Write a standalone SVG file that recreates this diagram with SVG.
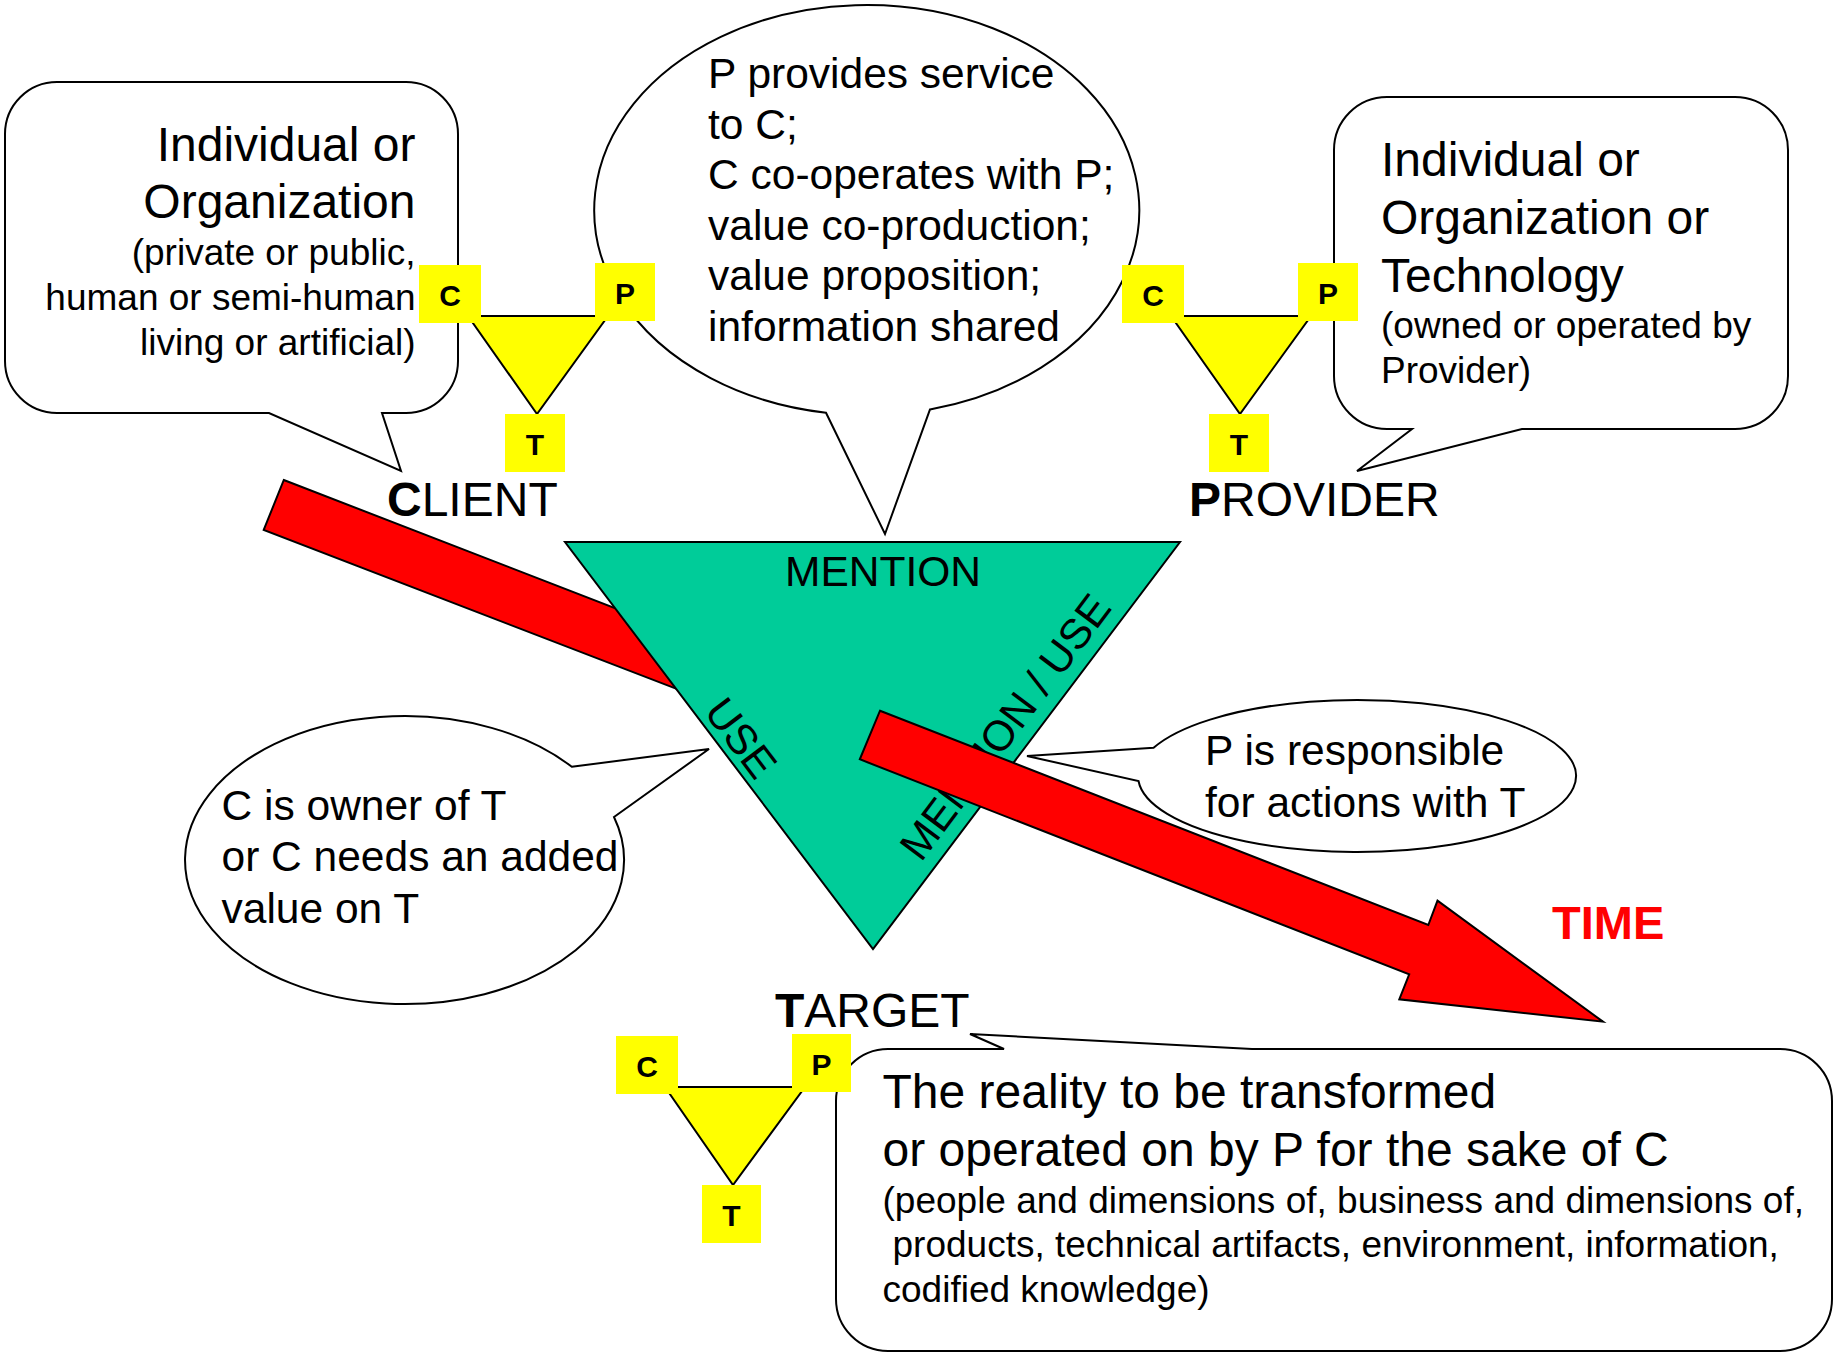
<svg xmlns="http://www.w3.org/2000/svg" width="1835" height="1354" viewBox="0 0 1835 1354">
<style>
.co{fill:#fff;stroke:#000;stroke-width:2;stroke-linejoin:miter}
.t{font-family:"Liberation Sans",Arial,sans-serif;fill:#000}
.big{font-size:48px}
.mid{font-size:42.5px}
.txt{font-size:42.5px}
.sm{font-size:37px}
.box{fill:#ff0}
.ytri{fill:#ff0;stroke:#000;stroke-width:2}
.bl{font-family:"Liberation Sans",Arial,sans-serif;font-weight:bold;font-size:30px;text-anchor:middle;fill:#000}
.red{fill:#f00;stroke:#000;stroke-width:2;stroke-linejoin:miter}
.b{font-weight:bold}
</style>
<rect width="1835" height="1354" fill="#fff"/>

<g id="client-callout">
<path class="co" d="M57,82 H406 A52,52 0 0 1 458,134 V361 A52,52 0 0 1 406,413 H382 L401,471 L269,413 H57 A52,52 0 0 1 5,361 V134 A52,52 0 0 1 57,82 Z"/>
<g class="t" text-anchor="end">
<text class="big" x="415.5" y="161">Individual or</text>
<text class="big" x="415.5" y="218">Organization</text>
<text class="sm" x="415.5" y="265">(private or public,</text>
<text class="sm" x="415.5" y="310">human or semi-human</text>
<text class="sm" x="415.5" y="355">living or artificial)</text>
</g>
</g>

<g id="service-callout">
<path class="co" d="M826,412.7 L885,534 L930,409.4 A272.5,205 0 1 0 826,412.7 Z"/>
<g class="t txt">
<text x="708" y="88">P provides service</text>
<text x="708" y="138.5">to C;</text>
<text x="708" y="189">C co-operates with P;</text>
<text x="708" y="239.5">value co-production;</text>
<text x="708" y="290">value proposition;</text>
<text x="708" y="341">information shared</text>
</g>
</g>

<g id="provider-callout">
<path class="co" d="M1387,97 H1735 A53,53 0 0 1 1788,150 V376 A53,53 0 0 1 1735,429 H1522 L1357,471 L1412,429 H1387 A53,53 0 0 1 1334,376 V150 A53,53 0 0 1 1387,97 Z"/>
<g class="t">
<text class="big" x="1381" y="176">Individual or</text>
<text class="big" x="1381" y="234">Organization or</text>
<text class="big" x="1381" y="292">Technology</text>
<text class="sm" x="1381" y="338">(owned or operated by</text>
<text class="sm" x="1381" y="383">Provider)</text>
</g>
</g>

<g id="owner-callout">
<path class="co" d="M571.8,766.8 L709,749 L614,817 A219.5,144 0 1 1 571.8,766.8 Z"/>
<g class="t mid">
<text x="221.5" y="820">C is owner of T</text>
<text x="221.5" y="871">or C needs an added</text>
<text x="221.5" y="923">value on T</text>
</g>
</g>

<g id="responsible-callout">
<path class="co" d="M1153.6,747.8 L1027,756 L1138.5,781 A219,76 0 1 0 1153.6,747.8 Z"/>
<g class="t mid">
<text x="1205" y="765">P is responsible</text>
<text x="1205" y="817">for actions with T</text>
</g>
</g>

<g id="target-callout">
<path class="co" d="M888,1049 H1004 L970,1034 L1252,1049 H1780 A52,52 0 0 1 1832,1101 V1299 A52,52 0 0 1 1780,1351 H888 A52,52 0 0 1 836,1299 V1101 A52,52 0 0 1 888,1049 Z"/>
<g class="t">
<text class="big" x="882.5" y="1108">The reality to be transformed</text>
<text class="big" x="882.5" y="1166">or operated on by P for the sake of C</text>
<text class="sm" x="882.5" y="1213">(people and dimensions of, business and dimensions of,</text>
<text class="sm" x="892.5" y="1257">products, technical artifacts, environment, information,</text>
<text class="sm" x="882.5" y="1302">codified knowledge)</text>
</g>
</g>

<g id="connectors">
<g id="time-arrow-back">
<polygon class="red" points="283.8,480 880,710.7 859.8,759.3 263.7,530"/>
</g>
</g>

<g id="relation-triangle">
<polygon points="565,542 1180,542 873,949" fill="#00cc99" stroke="#000" stroke-width="2"/>
<text class="t mid" x="883" y="586" text-anchor="middle">MENTION</text>
<text class="t mid" transform="translate(703,712) rotate(52.9)">USE</text>
<text class="t mid" transform="translate(921,863) rotate(-53)">MENTION / USE</text>
</g>

<g id="time-arrow-front">
<polygon class="red" points="880,710.7 1428.3,925 1437.5,900.7 1603,1021.7 1399.3,999.3 1409.2,974.3 859.8,759.3"/>
</g>

<g id="time-label">
<text class="t b" x="1552" y="939" font-size="47" style="fill:#f00">TIME</text>
</g>

<g id="client">
<polygon class="ytri" points="468,316 608,316 537,414"/>
<rect class="box" x="419" y="265" width="62" height="58"/>
<rect class="box" x="595" y="263" width="60" height="58"/>
<rect class="box" x="505" y="414" width="60" height="58"/>
<text class="bl" x="450" y="306">C</text>
<text class="bl" x="625" y="304">P</text>
<text class="bl" x="535" y="455">T</text>
<text class="t big" x="387" y="516"><tspan class="b">C</tspan>LIENT</text>
</g>

<g id="provider">
<polygon class="ytri" points="1171,316 1311,316 1240,414"/>
<rect class="box" x="1122" y="265" width="62" height="58"/>
<rect class="box" x="1298" y="263" width="60" height="58"/>
<rect class="box" x="1209" y="414" width="60" height="58"/>
<text class="bl" x="1153" y="306">C</text>
<text class="bl" x="1328" y="304">P</text>
<text class="bl" x="1239" y="455">T</text>
<text class="t big" x="1189" y="516"><tspan class="b">P</tspan>ROVIDER</text>
</g>

<g id="target">
<polygon class="ytri" points="665,1087 805,1087 733,1185"/>
<rect class="box" x="616" y="1036" width="62" height="58"/>
<rect class="box" x="792" y="1034" width="59" height="58"/>
<rect class="box" x="702" y="1185" width="59" height="58"/>
<text class="bl" x="647" y="1077">C</text>
<text class="bl" x="821.5" y="1075">P</text>
<text class="bl" x="731.5" y="1226">T</text>
<text class="t big" x="775" y="1027"><tspan class="b">T</tspan>ARGET</text>
</g>
</svg>
